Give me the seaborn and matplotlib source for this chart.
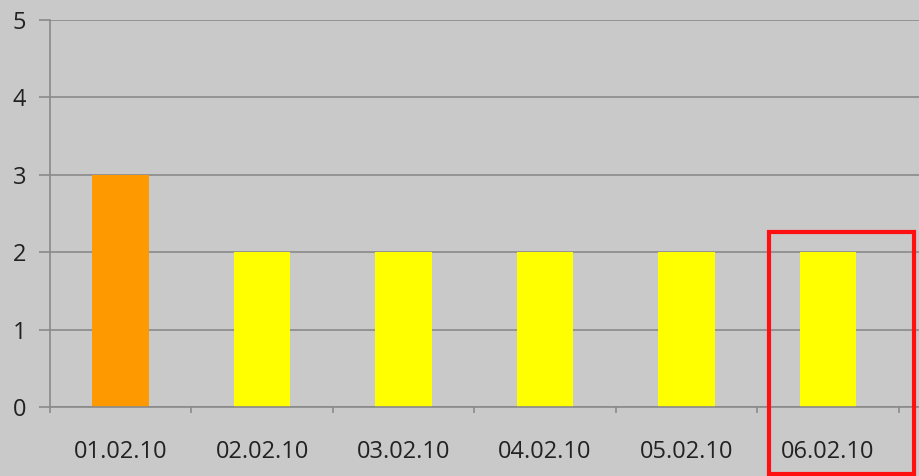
import matplotlib
matplotlib.use("Agg")
import matplotlib.pyplot as plt
import seaborn as sns
import pandas as pd
import numpy as np
from matplotlib.patches import Rectangle

dates = ["01.02.10", "02.02.10", "03.02.10", "04.02.10", "05.02.10", "06.02.10"]
values = [3, 2, 2, 2, 2, 2]
order = dates + ["07.02.10"]
bar_colors = ["#FF9900", "#FFFF00", "#FFFF00", "#FFFF00", "#FFFF00", "#FFFF00"]

sns.set_theme(style="white")
plt.rcParams["font.family"] = ["Open Sans", "DejaVu Sans"]

bg = "#c9c9c9"
fig = plt.figure(figsize=(9.2, 4.76), dpi=100, facecolor=bg)
ax = fig.add_axes([50 / 920, 1 - 407 / 476, 990 / 920, (407 - 20) / 476])
ax.set_facecolor(bg)

df = pd.DataFrame({"date": dates, "value": values})
sns.barplot(data=df, x="date", y="value", hue="date", order=order,
            palette=dict(zip(dates, bar_colors)), legend=False,
            width=0.4, saturation=1, linewidth=0, edgecolor="none", ax=ax)

ax.set_xlim(-0.5, len(order) - 0.5)
ax.set_ylim(0, 5)
ax.set_yticks(range(0, 6))
ax.yaxis.grid(True, color="#8a8a8a", linewidth=1.2)
ax.set_axisbelow(True)
ax.set_xlabel("")
ax.set_ylabel("")

for s in ["top", "right"]:
    ax.spines[s].set_visible(False)
ax.spines["left"].set_color("#8a8a8a")
ax.spines["bottom"].set_color("#8a8a8a")
ax.spines["left"].set_linewidth(1.2)
ax.spines["bottom"].set_linewidth(1.2)

ax.tick_params(axis="y", length=8, width=1.2, color="#8a8a8a", pad=9,
               labelsize=17, labelcolor="#222222", left=True)
ax.tick_params(axis="x", which="major", length=0, pad=24, labelsize=17,
               labelcolor="#222222")
ax.set_xticks(np.arange(-0.5, len(order)), minor=True)
ax.tick_params(axis="x", which="minor", length=4, width=1.2, color="#8a8a8a",
               bottom=True)

ax.add_patch(Rectangle((4.585, -0.86), 1.025, 3.12, fill=False,
                       edgecolor="#ff1010", linewidth=3, clip_on=False, zorder=5))

fig.savefig("out.png", dpi=100, facecolor=bg)
